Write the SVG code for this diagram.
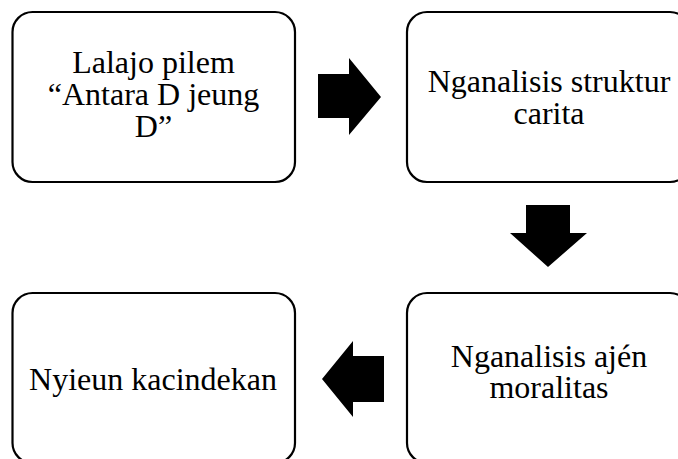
<svg xmlns="http://www.w3.org/2000/svg" width="678" height="459" viewBox="0 0 678 459">
<style>
.box{fill:#fff;stroke:#000;stroke-width:2.2}
.t{font-family:'Liberation Serif','Times New Roman',Times,serif;font-size:32px;fill:#000;text-anchor:middle}
.arr{fill:#000}
</style>
<rect width="678" height="459" fill="#fff"/>
<g id="node1">
<rect class="box" x="12.5" y="12" width="282.5" height="170" rx="20"/>
<text class="t" x="153.5" y="72.5">Lalajo pilem</text>
<text class="t" x="153.5" y="105">“Antara D jeung</text>
<text class="t" x="153.5" y="137">D”</text>
</g>
<g id="node2">
<rect class="box" x="407" y="12" width="283" height="170" rx="20"/>
<text class="t" x="549" y="91.5">Nganalisis struktur</text>
<text class="t" x="549" y="123.5">carita</text>
</g>
<g id="node3">
<rect class="box" x="407" y="293" width="283" height="170" rx="20"/>
<text class="t" x="549" y="367">Nganalisis ajén</text>
<text class="t" x="549" y="398">moralitas</text>
</g>
<g id="node4">
<rect class="box" x="12.5" y="293" width="282.5" height="170" rx="20"/>
<text class="t" x="153" y="390">Nyieun kacindekan</text>
</g>
<g id="connectors">
<polygon class="arr" points="318,74 349,74 349,58 381,97 349,135 349,118 318,118"/>
<polygon class="arr" points="526,205 570,205 570,233 587,233 548,267 510,233 526,233"/>
<polygon class="arr" points="384,356 353,356 353,341 322,379 353,417 353,402 384,402"/>
</g>
</svg>
